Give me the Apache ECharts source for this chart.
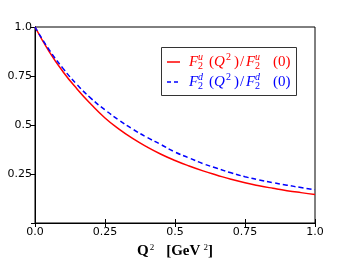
<!DOCTYPE html>
<html>
<head>
<meta charset="utf-8">
<script src="https://cdn.jsdelivr.net/npm/echarts@6/dist/echarts.min.js"></script>
<style>html,body{margin:0;padding:0;background:#fff;}#c{width:350px;height:264px;}</style>
</head>
<body>
<div id="c"></div>
<script>
const q2 = [0, 0.05, 0.1, 0.15, 0.2, 0.25, 0.3, 0.35, 0.4, 0.45, 0.5, 0.55, 0.6, 0.65, 0.7, 0.75, 0.8, 0.85, 0.9, 0.95, 1.0];
const f2u = [1, 0.876, 0.772, 0.684, 0.606, 0.536, 0.479, 0.430, 0.388, 0.351, 0.319, 0.291, 0.266, 0.244, 0.223, 0.205, 0.190, 0.177, 0.165, 0.155, 0.146];
const f2d = [1, 0.885, 0.789, 0.706, 0.636, 0.577, 0.525, 0.478, 0.437, 0.400, 0.362, 0.332, 0.303, 0.279, 0.256, 0.236, 0.220, 0.206, 0.193, 0.181, 0.170];
const xTicks = ['0.0', '0.25', '0.5', '0.75', '1.0'];
const yTicks = ['', '0.25', '0.5', '0.75', '1.0'];

const chart = echarts.init(document.getElementById('c'), null, {renderer: 'canvas'});
const serif = 'Liberation Serif';
const tickFont = {fontFamily: 'DejaVu Sans', fontSize: 11, color: '#000'};

function legendRow(y, color, sup, dash) {
  const it = {fontFamily: serif, fontStyle: 'italic', fontSize: 15, fill: color};
  const rm = {fontFamily: serif, fontSize: 15, fill: color};
  const sm = {fontFamily: serif, fontStyle: 'italic', fontSize: 10, fill: color};
  const sn = {fontFamily: serif, fontSize: 10, fill: color};
  const t = (x, yy, text, st) => ({type: 'text', x: x, y: yy, style: Object.assign({text: text, verticalAlign: 'middle'}, st), z: 102});
  return [
    {type: 'line', shape: {x1: 167, y1: y, x2: 180, y2: y}, style: {stroke: color, lineWidth: 1.5, lineDash: dash}, z: 102},
    t(189, y, 'F', it),
    t(198, y - 5, sup, sm),
    t(198, y + 4, '2', sn),
    t(209, y, '(', rm),
    t(214, y, 'Q', it),
    t(226, y - 5, '2', sn),
    t(234, y, ')', rm),
    t(240, y, '/', rm),
    t(246, y, 'F', it),
    t(255, y - 5, sup, sm),
    t(255, y + 4, '2', sn),
    t(273, y, '(0)', rm)
  ];
}

const option = {
  animation: false,
  backgroundColor: '#fff',
  grid: {left: 35, right: 35, top: 27, bottom: 41, show: true, borderColor: '#000', borderWidth: 1, backgroundColor: 'transparent'},
  xAxis: [{
    type: 'value', min: 0, max: 1, interval: 0.25,
    axisLine: {show: true, lineStyle: {color: '#000', width: 1}},
    axisTick: {show: true, inside: true, length: 4, lineStyle: {color: '#000'}},
    splitLine: {show: false},
    axisLabel: Object.assign({margin: 4, formatter: (v) => xTicks[Math.round(v * 4)]}, tickFont),
    name: '{b|Q}{s|2}{sp| }{b|[GeV}{s| 2}{b|]}',
    nameLocation: 'middle', nameGap: 17,
    nameTextStyle: {
      rich: {
        b: {fontFamily: serif, fontWeight: 'bold', fontSize: 15, color: '#000', verticalAlign: 'bottom', lineHeight: 16},
        s: {fontFamily: serif, fontSize: 9, color: '#000', verticalAlign: 'bottom', lineHeight: 16, padding: [0, 0, 7, 1]},
        sp: {fontSize: 15, width: 12}
      }
    }
  }, {
    type: 'value', min: 0, max: 1, interval: 0.25, position: 'top',
    axisLine: {show: true, lineStyle: {color: '#000'}},
    axisTick: {show: true, inside: true, length: 4, lineStyle: {color: '#000'}},
    axisLabel: {show: false}, splitLine: {show: false}
  }],
  yAxis: [{
    type: 'value', min: 0, max: 1, interval: 0.25,
    axisLine: {show: true, lineStyle: {color: '#000', width: 1}},
    axisTick: {show: true, inside: false, length: 3, lineStyle: {color: '#000'}},
    splitLine: {show: false},
    axisLabel: Object.assign({margin: 3, formatter: (v) => yTicks[Math.round(v * 4)]}, tickFont)
  }, {
    type: 'value', min: 0, max: 1, interval: 0.25, position: 'right',
    axisLine: {show: true, lineStyle: {color: '#000'}},
    axisTick: {show: true, inside: true, length: 4, lineStyle: {color: '#000'}},
    axisLabel: {show: false}, splitLine: {show: false}
  }],
  series: [{
    name: 'u', type: 'line', smooth: true, showSymbol: false,
    data: q2.map((x, i) => [x, f2u[i]]),
    lineStyle: {color: '#ff0000', width: 1.5}, z: 3
  }, {
    name: 'd', type: 'line', smooth: true, showSymbol: false,
    data: q2.map((x, i) => [x, f2d[i]]),
    lineStyle: {color: '#0000ff', width: 1.5, type: [5, 3]}, z: 4
  }],
  graphic: [
    {type: 'rect', shape: {x: 161.5, y: 47.5, width: 135, height: 48}, style: {fill: '#fff', stroke: '#333', lineWidth: 1}, z: 101}
  ].concat(legendRow(62, '#ff0000', 'u', null), legendRow(82, '#0000ff', 'd', [4, 3]))
};
chart.setOption(option);
</script>
</body>
</html>
